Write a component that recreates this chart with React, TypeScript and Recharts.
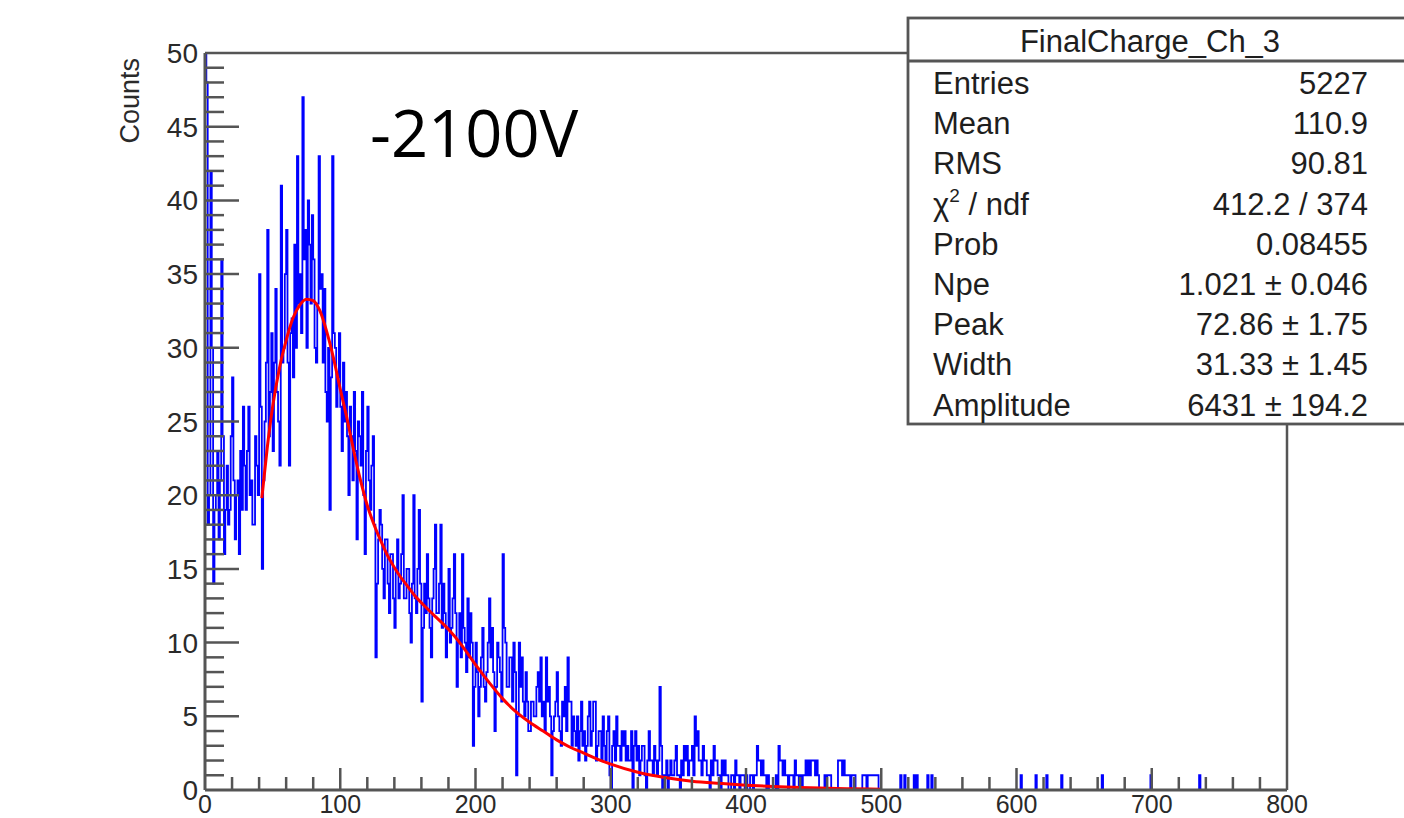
import React from "react";
import { ComposedChart, Line, XAxis, YAxis, ReferenceLine } from "recharts";

// Histogram: 800 bins of width 1 starting at 0, counts (one row = 10 bins)
const BIN_WIDTH = 1;
const counts: number[] = [
  52, 48, 18, 20, 42, 30, 14, 19, 20, 23, // 0
  17, 21, 36, 24, 16, 19, 22, 18, 19, 24, // 10
  28, 21, 17, 20, 21, 16, 23, 19, 26, 22, // 20
  19, 23, 26, 20, 21, 18, 18, 24, 22, 20, // 30
  35, 26, 15, 21, 25, 29, 38, 24, 27, 31, // 40
  23, 29, 34, 27, 25, 22, 41, 29, 30, 35, // 50
  38, 29, 22, 31, 32, 28, 37, 30, 43, 33, // 60
  35, 31, 47, 36, 38, 30, 40, 37, 33, 39, // 70
  36, 30, 29, 33, 43, 34, 35, 29, 34, 27, // 80
  25, 30, 19, 28, 43, 31, 30, 26, 28, 31, // 90
  26, 23, 29, 25, 27, 24, 20, 26, 24, 21, // 100
  27, 23, 17, 25, 24, 22, 27, 20, 16, 23, // 110
  26, 21, 19, 22, 24, 18, 9, 14, 17, 19, // 120
  18, 15, 13, 17, 17, 14, 12, 16, 16, 13, // 130
  11, 15, 17, 13, 14, 16, 20, 13, 13, 15, // 140
  15, 12, 10, 14, 20, 13, 12, 15, 19, 14, // 150
  6, 11, 14, 12, 16, 13, 11, 9, 13, 15, // 160
  18, 12, 12, 14, 18, 11, 14, 12, 9, 11, // 170
  15, 10, 11, 13, 16, 12, 7, 10, 12, 9, // 180
  16, 11, 10, 8, 13, 9, 12, 10, 3, 7, // 190
  10, 8, 5, 7, 9, 11, 7, 6, 8, 10, // 200
  13, 9, 11, 8, 4, 7, 10, 9, 8, 6, // 210
  16, 11, 10, 7, 7, 9, 9, 6, 10, 8, // 220
  1, 5, 10, 7, 9, 6, 5, 8, 6, 4, // 230
  4, 6, 6, 5, 5, 7, 8, 6, 9, 5, // 240
  6, 4, 9, 6, 7, 5, 1, 4, 5, 6, // 250
  8, 5, 4, 3, 6, 5, 7, 4, 9, 6, // 260
  6, 3, 5, 4, 3, 5, 2, 4, 6, 3, // 270
  4, 2, 3, 5, 6, 3, 4, 6, 6, 2, // 280
  3, 4, 4, 2, 5, 3, 2, 4, 5, 1, // 290
  0, 3, 4, 2, 5, 3, 3, 2, 4, 3, // 300
  4, 2, 3, 2, 2, 4, 0, 3, 4, 2, // 310
  3, 1, 2, 3, 3, 1, 0, 2, 4, 2, // 320
  2, 1, 3, 2, 1, 2, 7, 3, 0, 1, // 330
  1, 2, 0, 1, 2, 1, 1, 2, 3, 1, // 340
  1, 0, 2, 1, 3, 2, 3, 1, 2, 2, // 350
  3, 1, 5, 3, 4, 2, 2, 1, 3, 2, // 360
  2, 1, 1, 0, 2, 1, 3, 2, 2, 1, // 370
  1, 0, 2, 1, 2, 1, 1, 0, 0, 1, // 380
  1, 0, 2, 1, 1, 0, 1, 1, 1, 0, // 390
  1, 0, 0, 1, 1, 0, 1, 1, 3, 2, // 400
  2, 1, 2, 1, 1, 0, 1, 0, 0, 0, // 410
  0, 0, 1, 0, 3, 2, 2, 1, 2, 1, // 420
  1, 0, 1, 1, 1, 0, 2, 1, 1, 0, // 430
  1, 0, 1, 1, 2, 1, 2, 1, 2, 2, // 440
  2, 1, 2, 1, 0, 0, 0, 0, 1, 0, // 450
  1, 1, 1, 0, 0, 0, 0, 0, 2, 2, // 460
  2, 1, 2, 1, 1, 1, 1, 0, 1, 1, // 470
  1, 0, 0, 0, 0, 0, 1, 1, 1, 0, // 480
  1, 1, 1, 1, 1, 1, 1, 1, 0, 0, // 490
  0, 0, 0, 0, 0, 0, 0, 0, 0, 0, // 500
  0, 0, 0, 0, 1, 0, 0, 1, 0, 0, // 510
  0, 0, 0, 0, 1, 0, 1, 0, 0, 0, // 520
  0, 0, 0, 0, 1, 0, 0, 1, 0, 0, // 530
  0, 0, 0, 0, 0, 0, 0, 0, 0, 0, // 540
  0, 0, 0, 0, 0, 0, 0, 0, 0, 0, // 550
  0, 0, 0, 0, 0, 0, 0, 0, 0, 0, // 560
  0, 0, 0, 0, 0, 0, 0, 0, 0, 0, // 570
  0, 0, 0, 0, 0, 0, 0, 0, 0, 0, // 580
  0, 0, 0, 0, 0, 0, 0, 0, 0, 0, // 590
  0, 0, 0, 1, 0, 0, 0, 0, 0, 0, // 600
  0, 0, 0, 0, 1, 0, 0, 0, 0, 0, // 610
  0, 0, 1, 0, 0, 0, 0, 0, 0, 0, // 620
  0, 0, 0, 1, 0, 0, 0, 0, 0, 0, // 630
  0, 0, 0, 0, 0, 0, 0, 0, 0, 0, // 640
  0, 0, 0, 0, 0, 0, 0, 0, 0, 0, // 650
  0, 0, 0, 1, 0, 0, 0, 0, 0, 0, // 660
  0, 0, 0, 0, 0, 0, 0, 0, 0, 0, // 670
  0, 0, 0, 0, 0, 0, 0, 0, 0, 0, // 680
  0, 0, 0, 0, 0, 0, 0, 0, 0, 1, // 690
  0, 0, 0, 0, 0, 0, 0, 0, 0, 0, // 700
  0, 0, 0, 0, 0, 0, 0, 0, 0, 0, // 710
  0, 0, 0, 0, 0, 0, 0, 0, 0, 0, // 720
  0, 0, 0, 0, 0, 1, 0, 0, 0, 0, // 730
  0, 0, 0, 0, 0, 0, 0, 0, 0, 0, // 740
  0, 0, 0, 0, 0, 0, 0, 0, 0, 0, // 750
  0, 0, 0, 0, 0, 0, 0, 0, 0, 0, // 760
  0, 0, 0, 0, 0, 0, 0, 0, 0, 0, // 770
  0, 0, 0, 0, 0, 0, 0, 0, 0, 0, // 780
  0, 0, 0, 0, 0, 0, 0, 0, 0, 0, // 790
];

// Fit curve (red)
const fitX = [42, 46, 50, 55, 60, 65, 70, 75, 80, 85, 90, 95, 100, 105, 110, 115, 120, 125, 130, 135, 140, 145, 150, 155, 160, 170, 180, 190, 200, 210, 220, 230, 240, 250, 260, 270, 280, 290, 300, 320, 340, 360, 380, 400, 420, 440, 460, 480, 500];
const fitY = [19.8, 23.2, 26.0, 28.6, 30.5, 32.0, 32.9, 33.3, 33.2, 32.5, 31.1, 29.3, 27.2, 25.2, 23.0, 21.0, 19.3, 18.0, 16.9, 15.9, 15.1, 14.4, 13.8, 13.2, 12.7, 11.8, 10.9, 9.8, 8.5, 7.3, 6.2, 5.3, 4.6, 4.0, 3.4, 2.9, 2.5, 2.1, 1.75, 1.2, 0.85, 0.6, 0.45, 0.33, 0.24, 0.17, 0.12, 0.08, 0.05];

const xTicks = [0, 20, 40, 60, 80, 100, 120, 140, 160, 180, 200, 220, 240, 260, 280, 300, 320, 340, 360, 380, 400, 420, 440, 460, 480, 500, 520, 540, 560, 580, 600, 620, 640, 660, 680, 700, 720, 740, 760, 780, 800];
const yTicks = [0, 1, 2, 3, 4, 5, 6, 7, 8, 9, 10, 11, 12, 13, 14, 15, 16, 17, 18, 19, 20, 21, 22, 23, 24, 25, 26, 27, 28, 29, 30, 31, 32, 33, 34, 35, 36, 37, 38, 39, 40, 41, 42, 43, 44, 45, 46, 47, 48, 49, 50];

const statsTitle = "FinalCharge_Ch_3";
const statLabels = ["Entries", "Mean", "RMS", "CHI2", "Prob", "Npe", "Peak", "Width", "Amplitude"];
const statValues = ["5227", "110.9", "90.81", "412.2 / 374", "0.08455", "1.021 ± 0.046", "72.86 ± 1.75", "31.33 ± 1.45", "6431 ± 194.2"];

const annotation = "-2100V";
const yTitle = "Counts";

const histData = [{ x: 0, y: 0 }, ...counts.map((c, i) => ({ x: i * BIN_WIDTH, y: c })), { x: 800, y: counts[counts.length - 1] }];
const fitData = fitX.map((x, i) => ({ x, y: fitY[i] }));

const AXIS = "#555555";
const FONT = "'Liberation Sans', Arial, Helvetica, sans-serif";

const YTick = (props: any) => {
  const { x, y, payload } = props;
  const v = payload.value;
  const major = v % 5 === 0;
  return (
    <g>
      {v !== 0 && v !== 50 && (
        <line x1={x} x2={x + (major ? 34 : 19)} y1={y} y2={y} stroke={AXIS} strokeWidth={2.5} />
      )}
      {major && (
        <text x={x - 7} y={y + 10} textAnchor="end" fontFamily={FONT} fontSize={28} fill="#2a2a2a">
          {v}
        </text>
      )}
    </g>
  );
};

const XTick = (props: any) => {
  const { x, y, payload } = props;
  const v = payload.value;
  const major = v % 100 === 0;
  return (
    <g>
      {v !== 0 && v !== 800 && (
        <line x1={x} x2={x} y1={y} y2={y - (major ? 22 : 13)} stroke={AXIS} strokeWidth={2.5} />
      )}
      {major && (
        <text x={x} y={y + 23} textAnchor="middle" fontFamily={FONT} fontSize={25} fill="#2a2a2a">
          {v}
        </text>
      )}
    </g>
  );
};

export default function App() {
  return (
    <div style={{ position: "fixed", left: 0, top: 0, width: 1404, height: 818, background: "#fff", overflow: "hidden" }}>
      <ComposedChart width={1404} height={818} margin={{ top: 53, right: 117, bottom: 0, left: 145 }}>
        <Line
          data={histData}
          dataKey="y"
          type="stepAfter"
          stroke="#0000ff"
          strokeWidth={1.8}
          dot={false}
          activeDot={false}
          isAnimationActive={false}
        />
        <Line
          data={fitData}
          dataKey="y"
          type="monotone"
          stroke="#ff0000"
          strokeWidth={3}
          dot={false}
          activeDot={false}
          isAnimationActive={false}
        />
        <XAxis
          type="number"
          dataKey="x"
          domain={[0, 800]}
          ticks={xTicks}
          interval={0}
          allowDataOverflow
          height={28}
          tickSize={0}
          tickMargin={0}
          tickLine={false}
          axisLine={{ stroke: AXIS, strokeWidth: 3 }}
          tick={(p: any) => <XTick {...p} />}
        />
        <YAxis
          type="number"
          domain={[0, 50]}
          ticks={yTicks}
          interval={0}
          allowDataOverflow
          width={60}
          tickSize={0}
          tickMargin={0}
          tickLine={false}
          axisLine={{ stroke: AXIS, strokeWidth: 3 }}
          tick={(p: any) => <YTick {...p} />}
        />
        <ReferenceLine y={50} stroke={AXIS} strokeWidth={2.5} />
        <ReferenceLine x={800} stroke={AXIS} strokeWidth={2.5} />
      </ComposedChart>
      <svg width={1404} height={818} style={{ position: "absolute", left: 0, top: 0, pointerEvents: "none" }}>
        <text x={139} y={58} transform="rotate(-90 139 58)" textAnchor="end" fontFamily={FONT} fontSize={27} fill="#2a2a2a">
          {yTitle}
        </text>
        <text x={370} y={157} fontFamily="'Open Sans', sans-serif" fontSize={65} fill="#000">
          {annotation}
        </text>
        <rect x={908} y={18} width={520} height={406} fill="#fff" stroke={AXIS} strokeWidth={2.8} />
        <line x1={908} x2={1410} y1={61} y2={61} stroke={AXIS} strokeWidth={2.8} />
        <text x={1150} y={52} textAnchor="middle" fontFamily={FONT} fontSize={31} fill="#1e1e1e">
          {statsTitle}
        </text>
        {statLabels.map((lab, i) => {
          const yb = 94 + i * 40.2;
          return (
            <g key={lab}>
              {lab === "CHI2" ? (
                <text x={933} y={yb} fontFamily={FONT} fontSize={31} fill="#1e1e1e">
                  χ<tspan fontSize={19} dy={-13}>2</tspan>
                  <tspan dy={13}> / ndf</tspan>
                </text>
              ) : (
                <text x={933} y={yb} fontFamily={FONT} fontSize={31} fill="#1e1e1e">
                  {lab}
                </text>
              )}
              <text x={1368} y={yb} textAnchor="end" fontFamily={FONT} fontSize={31} fill="#1e1e1e">
                {statValues[i]}
              </text>
            </g>
          );
        })}
      </svg>
    </div>
  );
}
